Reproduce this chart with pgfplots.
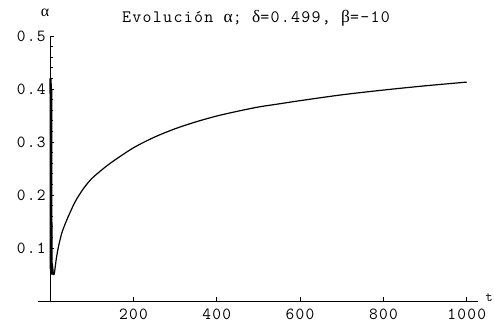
\documentclass[border=0pt]{standalone}
\usepackage{pgfplots}
\pgfplotsset{compat=1.18}
\usepackage{fontspec}
\setmainfont{Latin Modern Mono}[LetterSpace=7.5]
\newfontfamily\gr{Liberation Serif}
\begin{document}
\begin{tikzpicture}
\begin{axis}[
  at={(38bp,26bp)}, anchor=south west,
  scale only axis, width=440bp, height=265bp,
  xmin=-29, xmax=1027, ymin=0, ymax=0.5,
  axis lines=middle, axis line style={-, line width=0.9bp},
  xtick={200,400,600,800,1000},
  ytick={0.1,0.2,0.3,0.4,0.5},
  minor y tick num=4,
  tick align=inside,
  major tick length=4bp, minor tick length=2.5bp,
  tick style={black, line width=0.8bp},
  /pgf/number format/assume math mode=true,
  /pgf/number format/1000 sep={},
  yticklabel style={/pgf/number format/fixed, /pgf/number format/precision=1, /pgf/number format/fixed zerofill},
  tick label style={font=\fontsize{17}{17}\selectfont},
  xticklabel style={yshift=-4bp},
  yticklabel style={xshift=-1bp},
  clip=false,
]
\addplot[black, line width=1.2bp] coordinates {
(0,0.42)(0.5,0.06)(1,0.42)(1.5,0.058)(2,0.42)(2.5,0.055)(3,0.41)(3.5,0.05)(4,0.40)(4.5,0.05)(5,0.064)(6,0.066)(8,0.05)(10,0.05)
};
\addplot[black, line width=1.2bp, smooth] coordinates {
(10,0.05)(12,0.062)(15,0.08)(20,0.102)(28,0.128)(36,0.145)(44,0.160)(60,0.187)(80,0.212)(100,0.231)(125,0.248)(150,0.263)(200,0.289)(250,0.309)(300,0.325)(350,0.338)(400,0.349)(450,0.358)(500,0.366)(550,0.372)(600,0.378)(700,0.389)(800,0.398)(900,0.406)(1000,0.413)
};
\end{axis}
\node at (256bp,309bp) {\fontsize{17.5}{17.5}\selectfont Evolución {\gr α}; {\gr δ}=0.499, {\gr β}=-10};
\node at (45bp,314bp) {\fontsize{16}{16}\selectfont\gr α};
\node[anchor=east, inner xsep=1bp] at (494bp,29bp) {\fontsize{14}{14}\selectfont t};
\pgfresetboundingbox
\useasboundingbox (0,0) rectangle (494bp,327bp);
\end{tikzpicture}
\end{document}
